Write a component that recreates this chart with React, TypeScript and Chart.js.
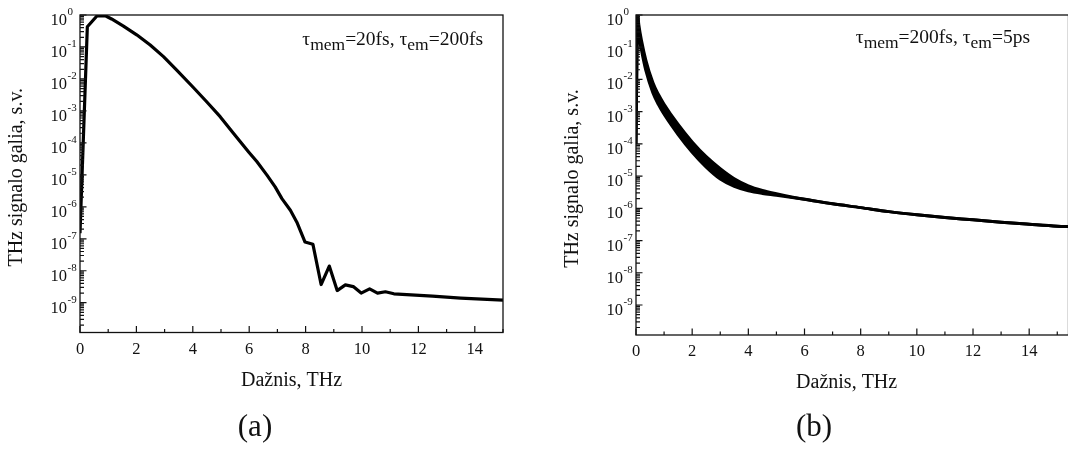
import React, { useEffect, useRef } from "react";
import { Chart, registerables } from "chart.js";

Chart.register(...registerables);

const FONT = '"Liberation Serif", "Times New Roman", Times, serif';

// ---------- Data: panel (a) tau_mem=20fs, tau_em=200fs ----------
const freqA = [
  0, 0.26, 0.6, 0.9, 1.12, 1.54, 2.01, 2.49, 2.96, 3.43, 4.02, 4.5, 4.97, 5.44,
  5.98, 6.27, 6.63, 6.92, 7.16, 7.46, 7.69, 7.98, 8.26, 8.55, 8.84, 9.12, 9.41,
  9.69, 9.97, 10.27, 10.55, 10.83, 11.13, 12.5, 13.5, 15,
];
const powerA = [
  1.5e-7, 0.43, 0.93, 0.95, 0.75, 0.45, 0.24, 0.115, 0.05, 0.019, 5.4e-3, 1.9e-3,
  6.6e-4, 2.0e-4, 5.2e-5, 2.6e-5, 9.8e-6, 4.2e-6, 1.8e-6, 7.8e-7, 3.3e-7, 7.9e-8,
  6.7e-8, 3.7e-9, 1.4e-8, 2.4e-9, 3.6e-9, 3.2e-9, 2.0e-9, 2.7e-9, 2.0e-9, 2.2e-9,
  1.9e-9, 1.6e-9, 1.4e-9, 1.2e-9,
];

// ---------- Data: panel (b) tau_mem=200fs, tau_em=5ps (oscillating band) ----------
const freqB = [
  0, 0.06, 0.1, 0.2, 0.35, 0.6, 0.8, 1.0, 1.5, 2.0, 2.5, 3.0, 3.5, 4.0, 4.5, 5.0,
  6, 7, 8, 9, 10, 11, 12, 13, 14, 15, 15.5,
];
const powerBUpper = [
  1e-4, 1, 0.5, 0.155, 0.04, 8.0e-3, 3.4e-3, 1.7e-3, 4.0e-4, 1.15e-4, 4.0e-5,
  1.7e-5, 8.3e-6, 5.0e-6, 3.6e-6, 2.85e-6, 1.9e-6, 1.38e-6, 1.05e-6, 7.9e-7,
  6.3e-7, 5.2e-7, 4.4e-7, 3.7e-7, 3.2e-7, 2.8e-7, 2.7e-7,
];
const powerBLower = [
  1e-4, 1, 0.25, 0.078, 0.019, 3.9e-3, 1.65e-3, 8.3e-4, 1.95e-4, 5.5e-5, 1.9e-5,
  8.1e-6, 4.8e-6, 3.5e-6, 2.9e-6, 2.55e-6, 1.9e-6, 1.38e-6, 1.05e-6, 7.9e-7,
  6.3e-7, 5.2e-7, 4.4e-7, 3.7e-7, 3.2e-7, 2.8e-7, 2.7e-7,
];

// ---------- Axes ----------
const xMin = 0;
const xMaxA = 15;
const xMaxB = 15.4;
const yMin = 1.17e-10;
const yMax = 1;
const xTickLabels = [0, 2, 4, 6, 8, 10, 12, 14];
const yTickExponents = [0, -1, -2, -3, -4, -5, -6, -7, -8, -9];

const xTitle = "Dažnis, THz";
const yTitle = "THz signalo galia, s.v.";

type Seg = { t: string; sub?: boolean };
const annotA: Seg[] = [
  { t: "τ" }, { t: "mem", sub: true }, { t: "=20fs, " },
  { t: "τ" }, { t: "em", sub: true }, { t: "=200fs" },
];
const annotB: Seg[] = [
  { t: "τ" }, { t: "mem", sub: true }, { t: "=200fs, " },
  { t: "τ" }, { t: "em", sub: true }, { t: "=5ps" },
];

type Decor = {
  annot: Seg[];
  annotRight: number;
  annotBase: number;
  caption: string;
  captionX: number;
};

function makeDecor(d: Decor) {
  return {
    id: "decor",
    afterDraw(chart: any) {
      const ctx: CanvasRenderingContext2D = chart.ctx;
      const { left, right, top, bottom } = chart.chartArea;
      const xs = chart.scales.x;
      const ys = chart.scales.y;
      ctx.save();
      ctx.fillStyle = "#111";
      ctx.strokeStyle = "#111";

      // frame
      ctx.lineWidth = 1.3;
      ctx.strokeRect(left, top, right - left, bottom - top);

      // x ticks (inward)
      ctx.lineWidth = 1.2;
      ctx.beginPath();
      for (let v = xMin; v <= xs.max; v += 1) {
        const px = xs.getPixelForValue(v);
        const len = v % 2 === 0 ? 6.5 : 3.5;
        ctx.moveTo(px, bottom);
        ctx.lineTo(px, bottom - len);
      }
      // y ticks (inward, log minor)
      for (let e = -10; e <= 0; e++) {
        for (let k = 1; k <= 9; k++) {
          const v = k * Math.pow(10, e);
          if (v < yMin || v > yMax * 1.0001) continue;
          const py = ys.getPixelForValue(v);
          const len = k === 1 ? 6.5 : 4;
          ctx.moveTo(left, py);
          ctx.lineTo(left + len, py);
        }
      }
      ctx.stroke();

      // x tick labels
      ctx.font = `16.5px ${FONT}`;
      ctx.textAlign = "center";
      ctx.textBaseline = "alphabetic";
      for (const v of xTickLabels) {
        ctx.fillText(String(v), xs.getPixelForValue(v), bottom + 21);
      }

      // y tick labels 10^e
      for (const e of yTickExponents) {
        const py = ys.getPixelForValue(Math.pow(10, e));
        ctx.font = `16.5px ${FONT}`;
        ctx.textAlign = "right";
        ctx.fillText("10", left - 13, py + 10);
        ctx.font = `11px ${FONT}`;
        ctx.textAlign = "left";
        ctx.fillText(String(e), left - 12.5, py);
      }

      // axis titles
      ctx.font = `20px ${FONT}`;
      ctx.textAlign = "center";
      ctx.fillText(xTitle, xs.getPixelForValue(7.5), bottom + 53);
      ctx.save();
      ctx.translate(left - 63, (top + bottom) / 2 + 3.5);
      ctx.rotate(-Math.PI / 2);
      ctx.textBaseline = "middle";
      ctx.fillText(yTitle, 0, 0);
      ctx.restore();

      // annotation with subscripts
      const mainF = `19.5px ${FONT}`;
      const subF = `17.5px ${FONT}`;
      let total = 0;
      for (const s of d.annot) {
        ctx.font = s.sub ? subF : mainF;
        total += ctx.measureText(s.t).width;
      }
      let x = d.annotRight - total;
      ctx.textAlign = "left";
      ctx.textBaseline = "alphabetic";
      for (const s of d.annot) {
        ctx.font = s.sub ? subF : mainF;
        ctx.fillText(s.t, x, d.annotBase + (s.sub ? 4.5 : 0));
        x += ctx.measureText(s.t).width;
      }

      // caption
      ctx.font = `31px ${FONT}`;
      ctx.textAlign = "center";
      ctx.fillText(d.caption, d.captionX, 436);
      ctx.restore();
    },
  };
}

function baseOptions(padding: any, xMax: number) {
  return {
    responsive: false,
    animation: false as const,
    events: [],
    layout: { padding },
    plugins: { legend: { display: false }, tooltip: { enabled: false } },
    scales: {
      x: { type: "linear" as const, min: xMin, max: xMax, display: false },
      y: { type: "logarithmic" as const, min: yMin, max: yMax, display: false },
    },
    elements: { point: { radius: 0 } },
  };
}

export default function App() {
  const refA = useRef<HTMLCanvasElement>(null);
  const refB = useRef<HTMLCanvasElement>(null);

  useEffect(() => {
    const chartA = new Chart(refA.current as HTMLCanvasElement, {
      type: "line",
      data: {
        datasets: [
          {
            data: freqA.map((f, i) => ({ x: f, y: powerA[i] })),
            borderColor: "#000",
            borderWidth: 3.2,
            tension: 0,
            borderJoinStyle: "round",
            fill: false,
          },
        ],
      },
      options: baseOptions({ left: 80, right: 31, top: 15, bottom: 118.5 }, xMaxA) as any,
      plugins: [
        makeDecor({
          annot: annotA,
          annotRight: 483,
          annotBase: 45,
          caption: "(a)",
          captionX: 255,
        }),
      ],
    });

    const chartB = new Chart(refB.current as HTMLCanvasElement, {
      type: "line",
      data: {
        datasets: [
          {
            data: freqB.map((f, i) => ({ x: f, y: powerBUpper[i] })),
            borderColor: "#000",
            borderWidth: 3,
            cubicInterpolationMode: "monotone",
            fill: false,
          },
          {
            data: freqB.map((f, i) => ({ x: f, y: powerBLower[i] })),
            borderColor: "#000",
            borderWidth: 3,
            cubicInterpolationMode: "monotone",
            backgroundColor: "#000",
            fill: "-1",
          },
        ],
      },
      options: baseOptions({ left: 102, right: 25.5, top: 15, bottom: 116 }, xMaxB) as any,
      plugins: [
        makeDecor({
          annot: annotB,
          annotRight: 1030 - 534,
          annotBase: 43,
          caption: "(b)",
          captionX: 814 - 534,
        }),
      ],
    });

    return () => {
      chartA.destroy();
      chartB.destroy();
    };
  }, []);

  return (
    <div
      style={{
        position: "fixed",
        left: 0,
        top: 0,
        width: 1068,
        height: 451,
        overflow: "hidden",
        background: "#fff",
      }}
    >
      <canvas
        ref={refA}
        width={534}
        height={451}
        style={{ position: "absolute", left: 0, top: 0 }}
      />
      <canvas
        ref={refB}
        width={560}
        height={451}
        style={{ position: "absolute", left: 534, top: 0 }}
      />
    </div>
  );
}
